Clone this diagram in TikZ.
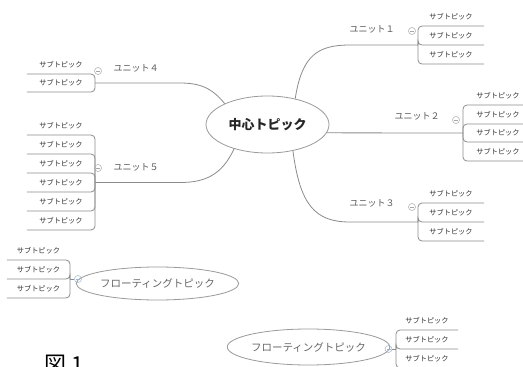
\documentclass[tikz,border=0pt]{standalone}
\usepackage{fontspec}
\newfontfamily\jp{Noto Sans CJK JP}
\usetikzlibrary{shapes.geometric}
\definecolor{linec}{HTML}{8C8C8C}
\definecolor{ellc}{HTML}{9A9A9A}
\definecolor{bluec}{HTML}{9DB4CC}
\begin{document}
\begin{tikzpicture}[x=1pt,y=-1pt,
  conn/.style={draw=linec, line width=0.8pt},
  brk/.style={draw=linec, line width=0.8pt, rounded corners=4pt},
  sub/.style={font=\jp\fontsize{7.2}{8}\selectfont, text=black!80, minimum height=19pt, inner sep=0pt, anchor=south},
  unit/.style={font=\jp\fontsize{9}{10}\selectfont, text=black!65, inner sep=0pt},
  coll/.style={circle, draw=gray!70, line width=0.5pt, minimum size=7pt, inner sep=0pt,
    path picture={\draw[gray!70, line width=0.5pt] ([xshift=-2pt]path picture bounding box.center) -- ([xshift=2pt]path picture bounding box.center);}},
  bcoll/.style={coll, draw=bluec, path picture={\draw[bluec, line width=0.5pt] ([xshift=-2pt]path picture bounding box.center) -- ([xshift=2pt]path picture bounding box.center);}},
  topic/.style={ellipse, draw=ellc, line width=0.8pt, inner sep=0pt, fill=white}
]
\useasboundingbox (0,0) rectangle (523,367);
\fill[white] (0,0) rectangle (523,367);
\clip (0,0) rectangle (523,367);

% central topic
\node[topic, minimum width=123pt, minimum height=57pt, font=\jp\bfseries\fontsize{13}{14}\selectfont, text=black!85] (c) at (267.5,124.5) {中心トピック};

% ---- Unit 1
\coordinate (j1) at (418,45);
\foreach \y [count=\i] in {26,45,64} {
  \node[sub, minimum width=66pt] (u1s\i) at (451,\y) {サブトピック};
  \draw[brk] (j1) |- (u1s\i.south east);
}
\node[unit] (u1) at (372,29) {ユニット１};
\node[coll] (k1) at (412,31) {};
\draw[conn] (c.43) .. controls (302,55) and (318,45) .. (350,45) -- (j1);

% ---- Unit 2
\coordinate (j2) at (463,133);
\foreach \y [count=\i] in {105,124,142,161} {
  \node[sub, minimum width=70pt] (u2s\i) at (498,\y) {サブトピック};
  \draw[brk] (j2) |- (u2s\i.south east);
}
\node[unit] (u2) at (417,116) {ユニット２};
\node[coll] (k2) at (456,120) {};
\draw[conn] (c.-8) -- (j2);

% ---- Unit 3
\coordinate (j3) at (418,222);
\foreach \y [count=\i] in {203,222,241} {
  \node[sub, minimum width=66pt] (u3s\i) at (451,\y) {サブトピック};
  \draw[brk] (j3) |- (u3s\i.south east);
}
\node[unit] (u3) at (372,203) {ユニット３};
\node[coll] (k3) at (412,207) {};
\draw[conn] (c.-46) .. controls (300,205) and (315,222) .. (350,222) -- (j3);

% ---- Unit 4
\coordinate (j4) at (95,83);
\foreach \y [count=\i] in {74,92} {
  \node[sub, minimum width=68pt] (u4s\i) at (61,\y) {サブトピック\hspace{8pt}};
  \draw[brk] (j4) |- (u4s\i.south west);
}
\node[unit] (u4) at (136,68) {ユニット４};
\node[coll] (k4) at (98,71) {};
\draw[conn] (c.154) .. controls (212,88) and (200,83) .. (180,83) -- (j4);

% ---- Unit 5
\coordinate (j5) at (95,182.5);
\foreach \y [count=\i] in {135,154,173,192,211,230} {
  \node[sub, minimum width=68pt] (u5s\i) at (61,\y) {サブトピック\hspace{8pt}};
  \draw[brk] (j5) |- (u5s\i.south west);
}
\node[unit] (u5) at (136,167) {ユニット５};
\node[coll] (k5) at (98,168) {};
\draw[conn] (c.216) .. controls (222,175) and (205,182.5) .. (180,182.5) -- (j5);

% ---- Floating topic 1
\node[topic, minimum width=151pt, minimum height=33pt, font=\jp\fontsize{10.5}{12}\selectfont, text=black!60] (f1) at (157.5,283.5) {フローティングトピック};
\coordinate (j6) at (70,279);
\foreach \y [count=\i] in {260,279,298} {
  \node[sub, minimum width=63pt] (f1s\i) at (38.5,\y) {サブトピック\hspace{5pt}};
  \draw[brk] (j6) |- (f1s\i.south west);
}
\node[bcoll] (k6) at (78,279) {};
\draw[conn] (k6) -- (j6);

% ---- Floating topic 2
\node[topic, minimum width=153pt, minimum height=36pt, font=\jp\fontsize{10.5}{12}\selectfont, text=black!60] (f2) at (308.5,347) {フローティングトピック};
\coordinate (j7) at (396,349);
\foreach \y [count=\i] in {330,349,368} {
  \node[sub, minimum width=62pt] (f2s\i) at (427,\y) {サブトピック};
  \draw[brk] (j7) |- (f2s\i.south east);
}
\node[bcoll] (k7) at (388.5,349) {};
\draw[conn] (k7) -- (j7);

% figure caption (cut off at the bottom)
\node[font=\jp\fontsize{22}{24}\selectfont, anchor=base west, inner sep=0pt] (fig) at (44,372) {図 1};
\end{tikzpicture}
\end{document}
